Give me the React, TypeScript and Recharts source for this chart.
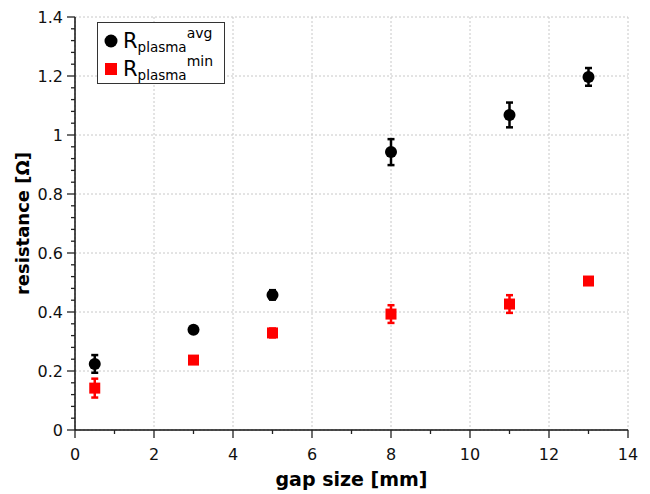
import React from "react";
import {
  ScatterChart,
  Scatter,
  XAxis,
  YAxis,
  CartesianGrid,
  ErrorBar,
} from "recharts";

// gap sizes in mm
const gapSize = [0.5, 3, 5, 8, 11, 13];

// plasma resistance in ohm, average and minimum, with their uncertainties
const rAvg = [0.224, 0.34, 0.458, 0.942, 1.068, 1.197];
const rAvgErr = [0.03, 0.006, 0.016, 0.044, 0.042, 0.03];
const rMin = [0.142, 0.237, 0.329, 0.393, 0.427, 0.505];
const rMinErr = [0.032, 0.008, 0.015, 0.03, 0.03, 0.01];

const xMajorTicks = [0, 2, 4, 6, 8, 10, 12, 14];
const xMinorTicks = [0, 1, 2, 3, 4, 5, 6, 7, 8, 9, 10, 11, 12, 13, 14];
const yMajorTicks = [0, 0.2, 0.4, 0.6, 0.8, 1, 1.2, 1.4];
const yMinorTicks = Array.from({ length: 36 }, (_, i) => +(i * 0.04).toFixed(2));

const avgData = gapSize.map((x, i) => ({ x, y: rAvg[i], err: rAvgErr[i] }));
const minData = gapSize.map((x, i) => ({ x, y: rMin[i], err: rMinErr[i] }));

const W = 650;
const H = 494;
const PLOT_LEFT = 75;
const PLOT_RIGHT = 628;
const PLOT_TOP = 17;
const PLOT_BOTTOM = 430;
const FONT = "'DejaVu Sans', sans-serif";
const MAJOR_LEN = 8;
const MINOR_LEN = 4;

const isMajor = (v: number, step: number) => Math.abs(v / step - Math.round(v / step)) < 1e-6;

const BottomTick = (props: any) => {
  const { x, payload } = props;
  const v = payload.value;
  const major = isMajor(v, 2);
  return (
    <g>
      <line x1={x} x2={x} y1={PLOT_BOTTOM} y2={PLOT_BOTTOM + (major ? MAJOR_LEN : MINOR_LEN)} stroke="#222" strokeWidth={1.3} />
      {major && (
        <text x={x} y={PLOT_BOTTOM + 30} textAnchor="middle" fontSize={16} fontFamily={FONT} fill="#111">
          {v}
        </text>
      )}
    </g>
  );
};

const TopTick = (props: any) => {
  const { x, payload } = props;
  const len = isMajor(payload.value, 2) ? MAJOR_LEN : MINOR_LEN;
  return <line x1={x} x2={x} y1={PLOT_TOP} y2={PLOT_TOP + len} stroke="#222" strokeWidth={1.3} />;
};

const LeftTick = (props: any) => {
  const { y, payload } = props;
  const v = payload.value;
  const major = isMajor(v, 0.2);
  return (
    <g>
      <line x1={PLOT_LEFT - (major ? MAJOR_LEN : MINOR_LEN)} x2={PLOT_LEFT} y1={y} y2={y} stroke="#222" strokeWidth={1.3} />
      {major && (
        <text x={PLOT_LEFT - 12} y={y + 6} textAnchor="end" fontSize={16} fontFamily={FONT} fill="#111">
          {String(+v.toFixed(1))}
        </text>
      )}
    </g>
  );
};

const RightTick = (props: any) => {
  const { y, payload } = props;
  const len = isMajor(payload.value, 0.2) ? MAJOR_LEN : MINOR_LEN;
  return <line x1={PLOT_RIGHT - len} x2={PLOT_RIGHT} y1={y} y2={y} stroke="#222" strokeWidth={1.3} />;
};

const Dot = (props: any) => <circle cx={props.cx} cy={props.cy} r={6} fill="#000" />;
const Square = (props: any) => (
  <rect x={props.cx - 5.5} y={props.cy - 5.5} width={11} height={11} fill="#ff0000" />
);

function LegendBox() {
  const row: React.CSSProperties = { display: "flex", alignItems: "center", height: 28 };
  const r: React.CSSProperties = { fontSize: 21, lineHeight: "21px" };
  const sub: React.CSSProperties = { fontSize: 13.5, position: "relative", top: 6 };
  const sup: React.CSSProperties = { fontSize: 14, position: "relative", top: -8 };
  return (
    <div
      style={{
        position: "absolute",
        left: 97,
        top: 22,
        width: 128,
        height: 62,
        border: "1px solid #333",
        background: "#fff",
        fontFamily: FONT,
        color: "#000",
        boxSizing: "border-box",
        padding: "4px 0 0 6px",
      }}
    >
      <div style={row}>
        <svg width={17} height={16} style={{ marginRight: 2 }}>
          <circle cx={7} cy={8} r={6.5} fill="#000" />
        </svg>
        <span style={r}>R</span>
        <span style={sub}>plasma</span>
        <span style={sup}>avg</span>
      </div>
      <div style={row}>
        <svg width={17} height={16} style={{ marginRight: 2 }}>
          <rect x={1} y={2} width={12} height={12} fill="#ff0000" />
        </svg>
        <span style={r}>R</span>
        <span style={sub}>plasma</span>
        <span style={sup}>min</span>
      </div>
    </div>
  );
}

export default function App() {
  return (
    <div style={{ position: "absolute", left: 0, top: 0, width: W, height: H, background: "#fff" }}>
      <ScatterChart
        width={W}
        height={H}
        margin={{ top: PLOT_TOP, right: W - PLOT_RIGHT, bottom: 0, left: 0 }}
      >
        <CartesianGrid
          stroke="#c8c8c8"
          strokeDasharray="2 2"
          verticalValues={xMajorTicks}
          horizontalValues={yMajorTicks}
        />
        <XAxis
          dataKey="x"
          type="number"
          domain={[0, 14]}
          ticks={xMinorTicks}
          interval={0}
          height={H - PLOT_BOTTOM}
          tick={<BottomTick />}
          tickLine={false}
          axisLine={{ stroke: "#111", strokeWidth: 1.5 }}
          label={{
            value: "gap size [mm]",
            position: "insideBottom",
            offset: 8,
            style: { fontFamily: FONT, fontSize: 19, fontWeight: "bold", fill: "#000" },
          }}
        />
        <XAxis
          xAxisId="top"
          orientation="top"
          type="number"
          domain={[0, 14]}
          ticks={xMinorTicks}
          interval={0}
          height={0}
          tick={<TopTick />}
          tickLine={false}
          axisLine={{ stroke: "#555", strokeWidth: 2 }}
        />
        <YAxis
          dataKey="y"
          type="number"
          domain={[0, 1.4]}
          ticks={yMinorTicks}
          interval={0}
          width={PLOT_LEFT}
          tick={<LeftTick />}
          tickLine={false}
          axisLine={{ stroke: "#111", strokeWidth: 1.5 }}
          label={{
            value: "resistance [\u03A9]",
            angle: -90,
            position: "insideLeft",
            offset: 23,
            style: { textAnchor: "middle", fontFamily: FONT, fontSize: 18, fontWeight: "bold", fill: "#000" },
          }}
        />
        <YAxis
          yAxisId="right"
          orientation="right"
          type="number"
          domain={[0, 1.4]}
          ticks={yMinorTicks}
          interval={0}
          width={0}
          tick={<RightTick />}
          tickLine={false}
          axisLine={{ stroke: "#777", strokeWidth: 3 }}
        />
        <Scatter data={avgData} shape={<Dot />} isAnimationActive={false}>
          <ErrorBar dataKey="err" direction="y" width={3.5} stroke="#000" strokeWidth={2.5} />
        </Scatter>
        <Scatter data={minData} shape={<Square />} isAnimationActive={false}>
          <ErrorBar dataKey="err" direction="y" width={3.5} stroke="#ff0000" strokeWidth={2.5} />
        </Scatter>
      </ScatterChart>
      <LegendBox />
    </div>
  );
}
